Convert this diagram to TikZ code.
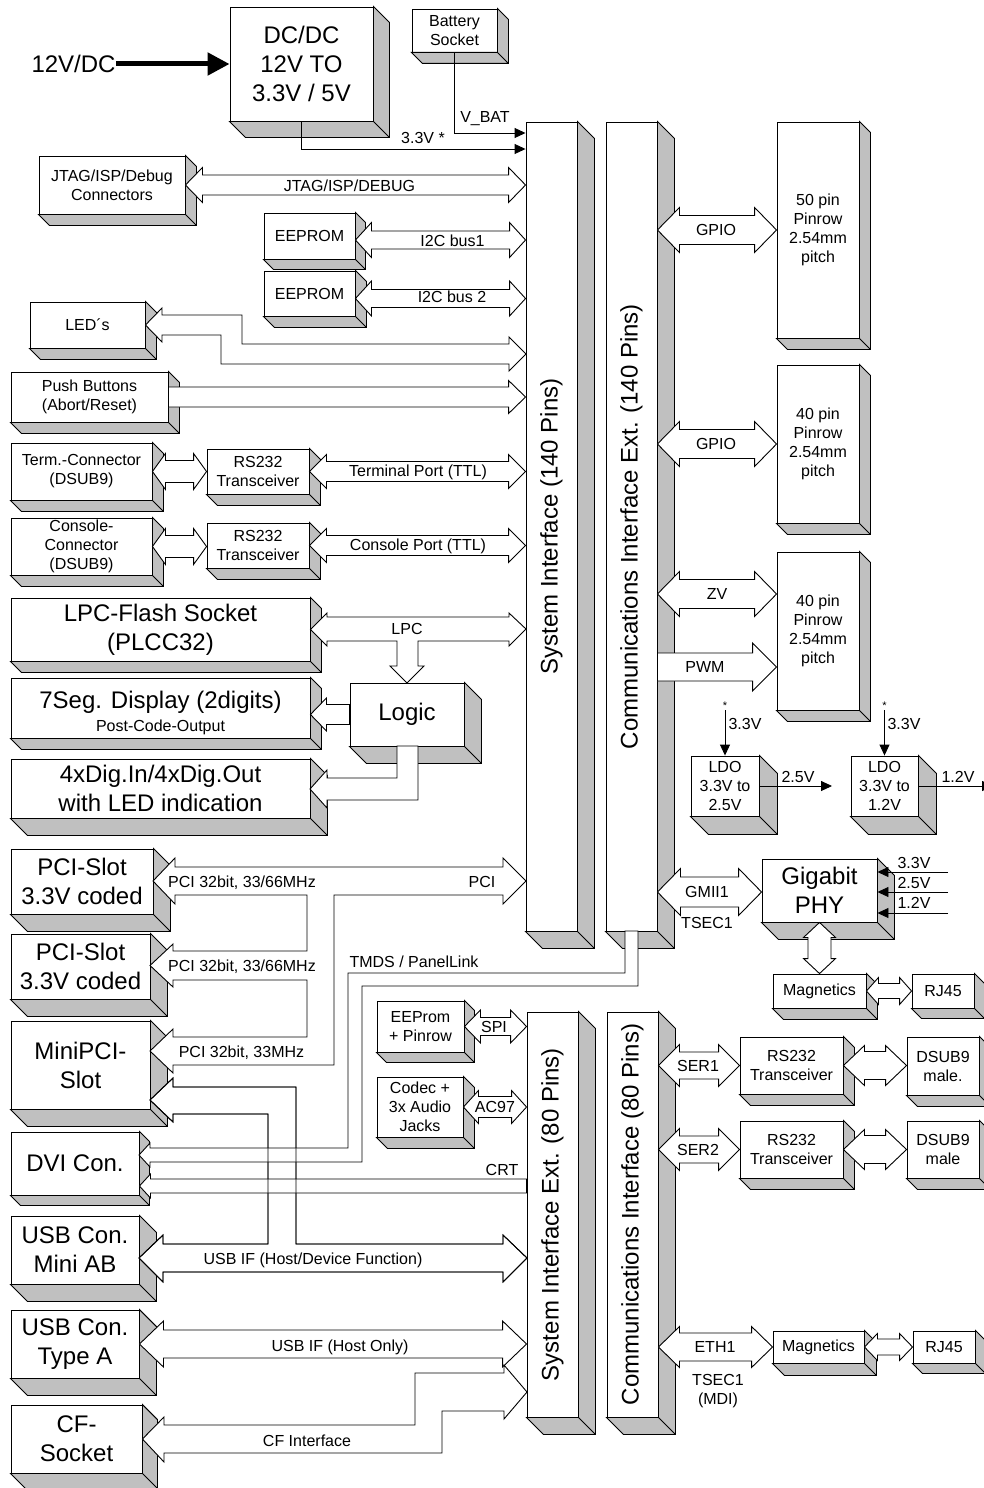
\documentclass[tikz,border=0pt]{standalone}
\usepackage{fontspec}
\setmainfont{Liberation Sans}
\usetikzlibrary{arrows.meta,calc}
\definecolor{shd}{HTML}{C0C0C0}
\newcommand\smtxt{\fontsize{16}{19}\selectfont}
\newcommand\bigtxt{\fontsize{24}{29}\selectfont}
% 3d block: [opts]{name}{corner}{corner}{depth}{text}
\newcommand\blk[6][]{%
  \path let \p1=(#3), \p2=(#4) in node[box,minimum width={\x2-\x1},minimum height={\y1-\y2},#1]
    (#2) at ($(#3)!.5!(#4)$) {#6};
  \draw[fill=shd] (#2.north east) -- ++(#5pt,-#5pt) |- ([shift={(#5pt,-#5pt)}]#2.south west)
    -- (#2.south west) -- (#2.south east) -- cycle (#2.south east) -- ++(#5pt,-#5pt);}
% double block arrow: {shaft}{head}{head length}{left tip}{right tip}
\newcommand\dbus[5]{%
  \draw[bus] let \p1=#4, \p2=#5 in (\x1,\y1) -- ++(#3pt,#2pt) -- ++(0pt,#1pt-#2pt)
    -- (\x2-#3pt,\y1+#1pt) -- ++(0pt,#2pt-#1pt) -- (\x2,\y1) -- ++(-#3pt,-#2pt)
    -- ++(0pt,#2pt-#1pt) -- (\x1+#3pt,\y1-#1pt) -- ++(0pt,#1pt-#2pt) -- cycle;}
% single block arrow: {shaft}{head}{head length}{tail}{tip}
\newcommand\sbus[5]{%
  \draw[bus] let \p1=#4, \p2=#5, \n1={sign(\x2-\x1)} in (\x1,\y1+#1pt)
    -- (\x2-\n1*#3pt,\y1+#1pt) -- ++(0pt,#2pt-#1pt) -- (\x2,\y1)
    -- (\x2-\n1*#3pt,\y1-#2pt) -- ++(0pt,#2pt-#1pt) -- (\x1,\y1-#1pt) -- cycle;}

\begin{document}
\begin{tikzpicture}[x=1pt,y=-1pt,line width=0.9pt,font=\smtxt,
  box/.style={draw,fill=white,inner sep=0pt,align=center},
  big/.style={font=\bigtxt},
  bus/.style={draw,fill=white,line join=miter},
  pwr/.style={-{Triangle[length=11pt,width=10pt]}},
  lbl/.style={inner sep=0pt,align=center}]
\useasboundingbox (0,0) rectangle (983,1488);

% power supply
\blk[big]{dcdc}{230,7}{373,121}{16}{DC/DC\\12V TO\\3.3V / 5V}
\blk{bat}{412,9}{497,52}{11}{Battery\\Socket}
% interface bars
\blk{sys}{526,122}{577,931}{17}{}
\blk{comm}{606,122}{657,931}{17}{}
\blk{sysx}{527,1012}{578,1417}{17}{}
\blk{comx}{607,1012}{658,1417}{17}{}
\node[big,rotate=90] (syst) at (sys) {System Interface (140 Pins)};
\node[big,rotate=90] (commt) at (comm) {Communications Interface Ext. (140 Pins)};
\node[big,rotate=90] (sysxt) at (sysx) {System Interface Ext. (80 Pins)};
\node[big,rotate=90] (comxt) at (comx) {Communications Interface (80 Pins)};
% left side
\blk{jtag}{39,156}{185,214}{11}{JTAG/ISP/Debug\\Connectors}
\blk{eep1}{264,213}{355,259}{10}{EEPROM}
\blk{eep2}{264,271}{355,316}{11}{EEPROM}
\blk{led}{30,302}{145,348}{11}{LED´s}
\blk{push}{11,372}{168,422}{11}{Push Buttons\\(Abort/Reset)}
\blk{term}{11,443}{152,500}{11}{Term.-Connector\\(DSUB9)}
\blk{rsa}{207,449}{309,494}{11}{RS232\\Transceiver}
\blk{cons}{11,518}{152,575}{11}{Console-\\Connector\\(DSUB9)}
\blk{rsb}{207,523}{309,568}{11}{RS232\\Transceiver}
\blk[big]{lpc}{11,598}{310,661}{11}{LPC-Flash Socket\\(PLCC32)}
\blk{seg}{11,678}{310,738}{11}{}
\node[big,lbl] (segt) at (160.5,702) {7Seg. Display (2digits)};
\node[lbl] (pco) at (160.5,727) {Post-Code-Output};
\blk[big]{logic}{350,683}{464,746}{17}{Logic}
\blk[big]{dig}{11,759}{310,818}{17}{4xDig.In/4xDig.Out\\with LED indication}
\blk[big]{pcia}{11,849}{153,914}{17}{PCI-Slot\\3.3V coded}
\blk[big]{pcib}{11,934}{150,999}{17}{PCI-Slot\\3.3V coded}
\blk[big]{mpci}{11,1021}{150,1109}{17}{MiniPCI-\\Slot}
\blk[big]{dvi}{11,1132}{139,1195}{10}{DVI Con.}
\blk[big]{usbab}{11,1216}{139,1284}{17}{USB Con.\\Mini AB}
\blk[big]{usba}{11,1310}{139,1378}{17}{USB Con.\\Type A}
\blk[big]{cf}{11,1405}{142,1473}{15}{CF-\\Socket}
\blk{eepp}{377,1001}{464,1052}{10}{EEProm\\+ Pinrow}
\blk{codec}{377,1077}{463,1137}{11}{Codec +\\3x Audio\\Jacks}
% right side
\blk{pina}{777,122}{859,338}{11}{50 pin\\Pinrow\\2.54mm\\pitch}
\blk{pinb}{777,365}{859,523}{11}{40 pin\\Pinrow\\2.54mm\\pitch}
\blk{pinc}{777,552}{859,710}{11}{40 pin\\Pinrow\\2.54mm\\pitch}
\blk{ldoa}{691,756}{759,816}{18}{LDO\\3.3V to\\2.5V}
\blk{ldob}{851,756}{918,816}{18}{LDO\\3.3V to\\1.2V}
\blk[big]{phy}{762,859}{877,922}{17}{Gigabit\\PHY}
\blk{maga}{773,974}{866,1008}{11}{Magnetics}
\blk{rja}{912,974}{974,1008}{10}{RJ45}
\blk{rsc}{740,1037}{843,1094}{11}{RS232\\Transceiver}
\blk{dsa}{907,1037}{979,1095}{11}{DSUB9\\male.}
\blk{rsd}{740,1121}{843,1178}{11}{RS232\\Transceiver}
\blk{dsb}{907,1121}{979,1178}{11}{DSUB9\\male}
\blk{magb}{773,1331}{864,1363}{12}{Magnetics}
\blk{rjb}{913,1331}{975,1363}{10}{RJ45}

% supply lines
\node[big,lbl,anchor=east] (vin) at (116,64) {12V/DC};
\draw[line width=5pt,-{Triangle[length=22pt,width=22pt]}] (vin.east) -- (vin.east -| dcdc.west);
\draw[pwr] (bat.south) |- (sys.west |- 0,133);
\draw[pwr] (dcdc.south) |- (sys.west |- 0,149);

% system interface buses
\dbus{10}{17.5}{17}{(jtag.east)}{(sys.west)}
\dbus{9}{17.5}{16}{([yshift=-4pt]eep1.east)}{(sys.west)}
\dbus{9}{17.5}{16}{([yshift=-5pt]eep2.east)}{(sys.west)}
\draw[bus] (led.east) -- (162,308) -- (162,315) -- (242,315) -- (242,344) -- (509,344) -- (509,337)
  -- (526,354) -- (509,371) -- (509,364) -- (221,364) -- (221,335) -- (162,335) -- (162,342) -- cycle;
\sbus{10}{16.5}{17}{(push.east)}{(sys.west)}
\dbus{11}{18}{13}{(term.east)}{(rsa.west)}
\dbus{10}{17}{17}{(rsa.east)}{(sys.west)}
\dbus{11}{18}{13}{(cons.east)}{(rsb.west)}
\dbus{10}{17}{17}{(rsb.east)}{(sys.west)}
\draw[bus] (lpc.east) -- (327,613) -- (327,617) -- (509,617) -- (509,613) -- (526,629) -- (509,646)
  -- (509,641) -- (418,641) -- (418,666) -- (424,666) -- (407,683) -- (390,666) -- (397,666)
  -- (397,641) -- (327,641) -- (327,646) -- cycle;
\sbus{10}{16.5}{16}{(logic.west)}{(seg.east)}
\draw[bus] (397,746) -- (397,778) -- (327,778) -- (327,770) -- (310,789) -- (327,808) -- (327,800)
  -- (418,800) -- (418,746) -- cycle;
% PCI bus to the three slots
\draw[bus] (153,881) -- (175,858) -- (175,867) -- (503,867) -- (503,858) -- (526,881) -- (503,904)
  -- (503,895) -- (334,895) -- (334,1065) -- (173,1065) -- (173,1073) -- (150,1051) -- (173,1029)
  -- (173,1037) -- (307,1037) -- (307,980) -- (173,980) -- (173,987) -- (150,965.5) -- (173,944)
  -- (173,951) -- (307,951) -- (307,895) -- (175,895) -- (175,904) -- cycle;
% USB (mini AB + MiniPCI), TMDS, CRT
\draw[bus] (139,1258) -- (163,1235) -- (163,1244) -- (268,1244) -- (268,1114) -- (173,1114)
  -- (173,1122) -- (150,1100) -- (173,1078) -- (173,1087) -- (296,1087) -- (296,1244) -- (503,1244)
  -- (503,1235) -- (527,1258) -- (503,1282) -- (503,1272) -- (163,1272) -- (163,1282) -- cycle;
\draw[bus] (625,931) -- (625,973) -- (348,973) -- (348,1148) -- (150,1148) -- (150,1143) -- (139,1155)
  -- (150,1167) -- (150,1162) -- (362,1162) -- (362,986) -- (638,986) -- (638,931) -- cycle;
\sbus{7}{12}{11}{(sysx.west |- 0,1186)}{(dvi.east)}
\draw (139,1258) -- (163,1235) -- (163,1244) -- (268,1244) -- (268,1114) -- (173,1114)
  -- (173,1122) -- (150,1100) -- (173,1078) -- (173,1087) -- (296,1087) -- (296,1244) -- (503,1244)
  -- (503,1235) -- (527,1258) -- (503,1282) -- (503,1272) -- (163,1272) -- (163,1282) -- cycle;
\dbus{14}{23}{24}{(usba.east)}{(sysx.west)}
\draw[bus] (cf.east) -- (164,1417) -- (164,1425) -- (415,1425) -- (415,1373) -- (504,1373) -- (504,1365)
  -- (527,1392) -- (504,1419) -- (504,1411) -- (442,1411) -- (442,1453) -- (164,1453) -- (164,1462) -- cycle;
\dbus{9}{16.5}{16}{(eepp.east)}{(sysx.west)}
\dbus{10.5}{16.5}{15}{(codec.east)}{(sysx.west)}

% communications buses
\dbus{14.5}{22.5}{22}{(comm.east |- pina)}{(pina.west)}
\dbus{14.5}{22.5}{22}{(comm.east |- pinb)}{(pinb.west)}
\dbus{14.5}{22.5}{22}{(comm.east |- 0,594)}{(pinc.west)}
\sbus{14}{24}{24}{(comm.east |- 0,667)}{(pinc.west)}
\dbus{15}{23.5}{23}{(comm.east |- 0,892)}{(phy.west)}
\draw[bus] let \p1=(phy.south), \p2=(maga.north) in (\x1,\y1) -- ++(16pt,-15pt) -- ++(-4.5pt,0pt)
  -- (\x1+11.5pt,\y2+15pt) -- ++(4.5pt,0pt) -- (\x1,\y2) -- ++(-16pt,15pt) -- ++(4.5pt,0pt)
  -- (\x1-11.5pt,\y1-15pt) -- ++(-4.5pt,0pt) -- cycle;
\dbus{7.5}{13.5}{12}{(maga.east)}{(rja.west)}
\dbus{13.5}{21}{21}{(comx.east |- rsc)}{(rsc.west)}
\dbus{14}{20}{21}{(rsc.east)}{(dsa.west)}
\dbus{13.5}{21}{21}{(comx.east |- rsd)}{(rsd.west)}
\dbus{14}{20}{21}{(rsd.east)}{(dsb.west)}
\dbus{14}{20.5}{21}{(comx.east |- magb)}{(magb.west)}
\dbus{8}{13.5}{13}{(magb.east)}{(rjb.west)}

% LDO and PHY supplies
\coordinate (ia) at (725,710);
\coordinate (ib) at (884.5,710);
\coordinate (oa) at (832,786);
\coordinate (ob) at (993,786);
\draw[pwr] (ia) -- (ldoa.north);
\draw[pwr] (ib) -- (ldob.north);
\draw[pwr] (ldoa.east) -- (oa);
\draw[pwr] (ldob.east) -- (ob);
\foreach \n/\y in {a/872,b/892,c/913}{\coordinate (s\n) at (948,\y); \draw[pwr] (s\n) -- (s\n -| phy.east);}

% labels
\node[lbl] (lvbat) at (485,119) {V\_BAT};
\node[lbl] (l33) at (423,138) {3.3V *};
\node[lbl] (ljtag) at (349.5,186) {JTAG/ISP/DEBUG};
\node[lbl] (li2ca) at (452.5,241) {I2C bus1};
\node[lbl] (li2cb) at (452,297) {I2C bus 2};
\node[lbl] (lterm) at (418,472) {Terminal Port (TTL)};
\node[lbl] (lcons) at (418,546) {Console Port (TTL)};
\node[lbl] (llpc) at (407,629) {LPC};
\node[lbl] (lpcia) at (242,883) {PCI 32bit, 33/66MHz};
\node[lbl] (lpci) at (482,882) {PCI};
\node[lbl] (lpcib) at (242,967) {PCI 32bit, 33/66MHz};
\node[lbl] (lmpci) at (241.5,1053) {PCI 32bit, 33MHz};
\node[lbl] (ltmds) at (414,962) {TMDS / PanelLink};
\node[lbl] (lcrt) at (502,1170) {CRT};
\node[lbl] (lusbab) at (313,1260) {USB IF (Host/Device Function)};
\node[lbl] (lusba) at (340,1347) {USB IF (Host Only)};
\node[lbl] (lcf) at (307,1441) {CF Interface};
\node[lbl] (lspi) at (494,1027) {SPI};
\node[lbl] (lac) at (495,1107) {AC97};
\node[lbl] (lgpa) at (716,230) {GPIO};
\node[lbl] (lgpb) at (716,444) {GPIO};
\node[lbl] (lzv) at (717,594) {ZV};
\node[lbl] (lpwm) at (705,667) {PWM};
\node[lbl,font=\fontsize{11}{13}\selectfont] (sta) at (725,706) {*};
\node[lbl,font=\fontsize{11}{13}\selectfont] (stb) at (884.5,706) {*};
\node[lbl] (lia) at (745,724) {3.3V};
\node[lbl] (lib) at (904,724) {3.3V};
\node[lbl] (loa) at (798,777) {2.5V};
\node[lbl] (lob) at (958,777) {1.2V};
\node[lbl] (lgmii) at (707,892) {GMII1};
\node[lbl] (ltsec) at (707,923) {TSEC1};
\node[lbl] (lsa) at (914,863) {3.3V};
\node[lbl] (lsb) at (914,883) {2.5V};
\node[lbl] (lsc) at (914,903) {1.2V};
\node[lbl] (lser1) at (698,1066) {SER1};
\node[lbl] (lser2) at (698,1150) {SER2};
\node[lbl] (leth) at (715,1347) {ETH1};
\node[lbl] (lmdi) at (718,1391) {TSEC1\\(MDI)};
\end{tikzpicture}
\end{document}
